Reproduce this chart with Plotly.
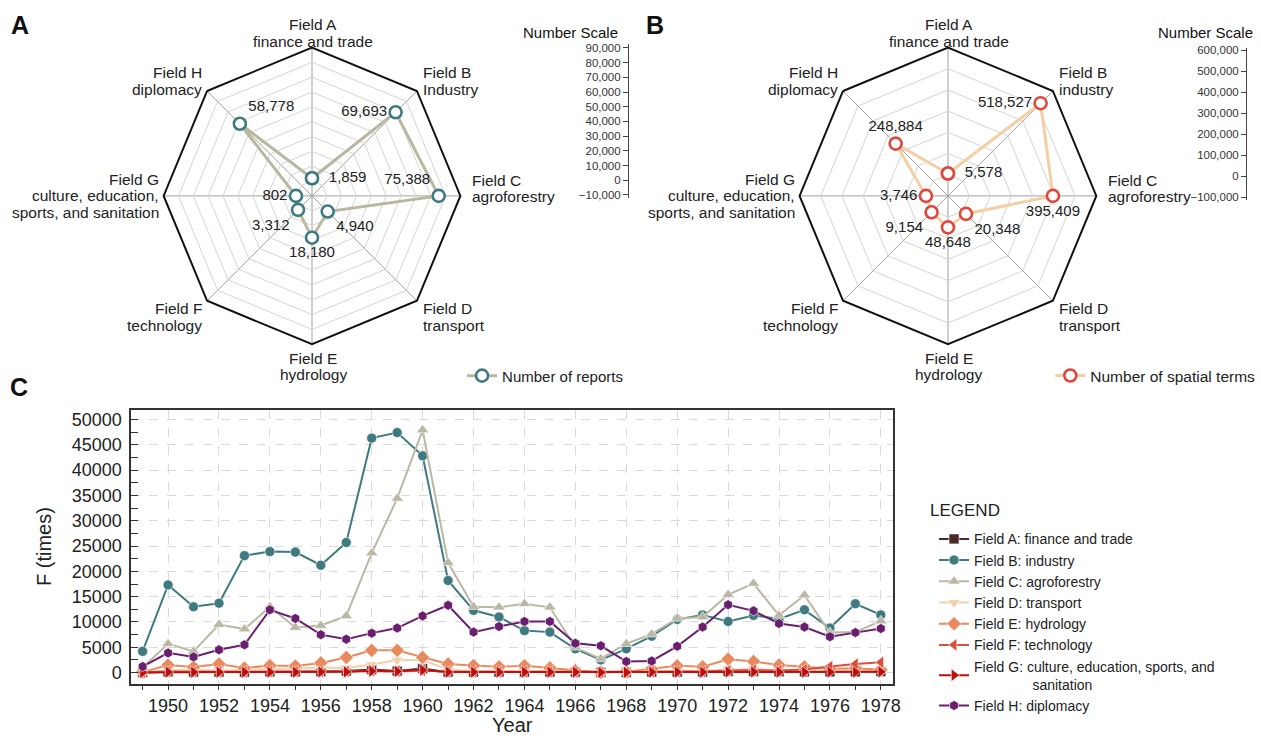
import plotly.graph_objects as go

FONT = "Liberation Sans, Arial, sans-serif"

# ---------------- data ----------------
fields = ["Field A", "Field B", "Field C", "Field D", "Field E", "Field F", "Field G", "Field H"]
reports = [1859, 69693, 75388, 4940, 18180, 3312, 802, 58778]
spatial_terms = [5578, 518527, 395409, 20348, 48648, 9154, 3746, 248884]

labels_a = [["Field A", "finance and trade"], ["Field B", "Industry"], ["Field C", "agroforestry"],
            ["Field D", "transport"], ["Field E", "hydrology"], ["Field F", "technology"],
            ["Field G", "culture, education,", "sports, and sanitation"], ["Field H", "diplomacy"]]
labels_b = [["Field A", "finance and trade"], ["Field B", "industry"], ["Field C", "agroforestry"],
            ["Field D", "transport"], ["Field E", "hydrology"], ["Field F", "technology"],
            ["Field G", "culture, education,", "sports, and sanitation"], ["Field H", "diplomacy"]]

years = list(range(1949, 1979))
field_a = [50, 150, 100, 100, 100, 150, 150, 200, 300, 600, 300, 800, 100, 100, 100, 100, 100, 100, 50, 50,
           100, 100, 100, 200, 200, 150, 150, 150, 150, 200]
field_b = [4200, 17300, 13000, 13700, 23100, 23900, 23800, 21200, 25700, 46300, 47400, 42800, 18200, 12300,
           11000, 8300, 8000, 4700, 2500, 4700, 7200, 10500, 11400, 10100, 11300, 10600, 12400, 8800, 13600, 11400]
field_c = [1000, 5700, 4200, 9500, 8600, 13000, 8900, 9300, 11200, 23600, 34400, 47900, 21700, 13000,
           12900, 13600, 12900, 5000, 2700, 5700, 7600, 10700, 11000, 15400, 17600, 11300, 15300, 7900, 8000, 10200]
field_d = [50, 500, 500, 400, 500, 700, 800, 1000, 900, 1600, 2500, 2500, 600, 300,
           300, 200, 400, 200, 100, 100, 200, 300, 300, 500, 700, 400, 500, 300, 400, 300]
field_e = [100, 1500, 1100, 1700, 900, 1400, 1300, 1900, 3000, 4400, 4400, 3000, 1700, 1400,
           1150, 1350, 950, 400, 50, 200, 750, 1350, 1150, 2650, 2200, 1500, 1150, 750, 850, 550]
field_f = [50, 200, 150, 150, 150, 200, 200, 200, 250, 350, 300, 400, 150, 150,
           150, 150, 150, 100, 50, 100, 150, 200, 200, 400, 500, 400, 600, 1200, 1700, 2050]
field_g = [50, 100, 100, 100, 100, 100, 100, 150, 150, 300, 250, 500, 100, 100,
           100, 100, 100, 100, 50, 50, 100, 100, 100, 150, 150, 100, 100, 100, 100, 150]
field_h = [1200, 3900, 3100, 4500, 5500, 12400, 10700, 7500, 6600, 7800, 8800, 11200, 13300, 8000,
           9100, 10100, 10100, 5800, 5300, 2200, 2300, 5200, 9000, 13400, 12200, 9700, 9000, 7100, 7900, 8700]

series_names = ["Field A: finance and trade", "Field B: industry", "Field C: agroforestry",
                "Field D: transport", "Field E: hydrology", "Field F: technology",
                "Field G: culture, education, sports, and<br>" + "\u00a0" * 15 + "sanitation",
                "Field H: diplomacy"]
series_values = [field_a, field_b, field_c, field_d, field_e, field_f, field_g, field_h]
series_colors = ["#4a2a2a", "#3f7a80", "#bab8a4", "#f0d0ae", "#e98a5e", "#d94f3d", "#c00d0d", "#6a1f6e"]
series_symbols = ["square", "circle", "triangle-up", "triangle-down", "diamond",
                  "triangle-left", "triangle-right", "hexagon"]

reports_text_pos = ["middle right", "middle left", "top left", "bottom right",
                    "bottom center", "bottom left", "middle left", "top right"]
terms_text_pos = ["middle right", "middle left", "bottom center", "bottom right",
                  "bottom center", "bottom left", "middle left", "top center"]

W, H = 1261, 736


def px(x):
    return x / W


def py(y):
    return 1 - y / H


def fmt_labels(values, positions):
    out = []
    for v, p in zip(values, positions):
        pad = "\u00a0\u00a0" if p == "middle right" else ""
        out.append(pad + f"{v:,}")
    return out


fig = go.Figure()

# ---------------- radar A & B ----------------
def closed(v):
    return list(v) + [v[0]]


fig.add_trace(go.Scatterpolar(
    r=closed(reports), theta=closed(fields), subplot="polar",
    mode="lines+markers+text", name="Number of reports", legend="legend2",
    text=fmt_labels(reports, reports_text_pos) + [""],
    textposition=reports_text_pos + ["middle right"],
    textfont=dict(size=15, color="#222", family=FONT),
    line=dict(color="#bab79f", width=3),
    marker=dict(symbol="circle", size=12, color="white", line=dict(color="#3f7a80", width=2.6)),
    cliponaxis=True,
))
fig.add_trace(go.Scatterpolar(
    r=closed(spatial_terms), theta=closed(fields), subplot="polar2",
    mode="lines+markers+text", name="Number of spatial terms", legend="legend3",
    text=fmt_labels(spatial_terms, terms_text_pos) + [""],
    textposition=terms_text_pos + ["middle right"],
    textfont=dict(size=15, color="#222", family=FONT),
    line=dict(color="#f3cfa5", width=3),
    marker=dict(symbol="circle", size=12, color="white", line=dict(color="#e0463a", width=2.6)),
    cliponaxis=True,
))

polar_common = dict(
    bgcolor="white",
    gridshape="linear",
    angularaxis=dict(rotation=90, direction="clockwise", showticklabels=False, ticks="",
                     gridcolor="#a0a0a0", gridwidth=1, linecolor="#111", linewidth=2,
                     categoryorder="array", categoryarray=fields),
)
RH = 150  # half size of polar domain (px)
CY = 195
fig.update_layout(
    polar=dict(domain=dict(x=[px(314 - RH), px(314 + RH)], y=[py(CY + RH), py(CY - RH)]),
               radialaxis=dict(range=[-10000, 90000], dtick=10000, tick0=0, showticklabels=False,
                               ticks="", showline=False, gridcolor="#d4d4d4", gridwidth=1),
               **polar_common),
    polar2=dict(domain=dict(x=[px(954 - RH), px(954 + RH)], y=[py(CY + RH), py(CY - RH)]),
                radialaxis=dict(range=[-100000, 600000], dtick=100000, tick0=0, showticklabels=False,
                                ticks="", showline=False, gridcolor="#d4d4d4", gridwidth=1),
                **polar_common),
)

# ---------------- number scales ----------------
fig.add_trace(go.Scatter(x=[], y=[], xaxis="x2", yaxis="y2", showlegend=False))
fig.add_trace(go.Scatter(x=[], y=[], xaxis="x3", yaxis="y3", showlegend=False))
scale_common = dict(showline=True, linecolor="#444", linewidth=1, ticks="outside", ticklen=5,
                    tickcolor="#444", tickformat=",", showgrid=False, zeroline=False,
                    tickfont=dict(size=11.5, color="#333", family=FONT))
fig.update_layout(
    xaxis2=dict(domain=[px(633), px(640)], visible=False, anchor="y2"),
    yaxis2=dict(domain=[py(197), py(41)], range=[-12000, 93000], dtick=10000, anchor="x2",
                side="left", **scale_common),
    xaxis3=dict(domain=[px(1255), px(1261)], visible=False, anchor="y3"),
    yaxis3=dict(domain=[py(199), py(45)], range=[-112000, 612000], dtick=100000, anchor="x3",
                side="left", **scale_common),
)

# ---------------- panel C ----------------
for name, vals, col, sym in zip(series_names, series_values, series_colors, series_symbols):
    size = 11 if sym not in ("circle", "hexagon", "square") else 10
    fig.add_trace(go.Scatter(
        x=years, y=vals, name=name, mode="lines+markers", legend="legend",
        line=dict(color=col, width=2),
        marker=dict(symbol=sym, size=size, color=col, line=dict(color="white", width=0.6)),
        cliponaxis=False,
    ))

fig.update_layout(
    xaxis=dict(domain=[px(132), px(899)], range=[1948.55, 1978.49], anchor="y",
               tick0=1950, dtick=2, ticks="outside", ticklen=5, tickcolor="#333",
               minor=dict(dtick=1, ticks="outside", ticklen=5, tickcolor="#333"),
               showgrid=True, gridcolor="#d9d9d9", griddash="dash", gridwidth=1,
               showline=True, linecolor="#333", linewidth=1.5, mirror=True, zeroline=False,
               tickfont=dict(size=18, color="#222", family=FONT),
               title=dict(text="Year", font=dict(size=20, color="#222", family=FONT), standoff=6)),
    yaxis=dict(domain=[py(688), py(411)], range=[-2150, 51950], anchor="x",
               dtick=5000, tick0=0, tickformat="d", ticks="inside", ticklen=7, tickcolor="#333",
               minor=dict(dtick=2500, ticks="inside", ticklen=7, tickcolor="#333"),
               showgrid=True, gridcolor="#d9d9d9", griddash="dash", gridwidth=1,
               showline=True, linecolor="#333", linewidth=1.5, mirror=True, zeroline=False,
               ticklabelstandoff=4,
               tickfont=dict(size=18, color="#222", family=FONT),
               title=dict(text="F (times)", font=dict(size=20, color="#222", family=FONT), standoff=15)),
)

# ---------------- legends ----------------
fig.update_layout(
    showlegend=True,
    legend=dict(x=px(940), y=py(526), xanchor="left", yanchor="top",
                font=dict(size=14, color="#222", family=FONT), bgcolor="rgba(0,0,0,0)",
                tracegroupgap=0),
    legend2=dict(x=px(465), y=py(377), xanchor="left", yanchor="middle",
                 font=dict(size=15, color="#222", family=FONT), bgcolor="rgba(0,0,0,0)"),
    legend3=dict(x=px(1057), y=py(377), xanchor="left", yanchor="middle",
                 font=dict(size=15.5, color="#222", family=FONT), bgcolor="rgba(0,0,0,0)"),
)

# ---------------- annotations ----------------
ann = []
lab_font = dict(size=15.5, color="#222", family=FONT)
# first-line positions relative to radar centre (dx, dy, xanchor)
label_pos = [(1, -173, "center"), (110, -125, "left"), (159, -16, "left"), (110, 114, "left"),
             (1, 164, "center"), (-109, 114, "right"), (-152, -17, "right"), (-109, -125, "right")]
LS = 17
for cx, labs in ((314, labels_a), (954, labels_b)):
    for (dx, dy, xa), lines in zip(label_pos, labs):
        for i, line in enumerate(lines):
            ann.append(dict(x=px(cx + dx), y=py(CY + dy + i * LS), xref="paper", yref="paper",
                            text=line, showarrow=False, xanchor=xa, yanchor="middle",
                            font=lab_font))

for xr, txt in ((624, "Number Scale"), (1263, "Number Scale")):
    ann.append(dict(x=px(xr), y=py(30), xref="paper", yref="paper", text=txt, showarrow=False,
                    xanchor="right", yanchor="middle", font=dict(size=15, color="#111", family=FONT)))

ann.append(dict(x=px(934), y=py(513), xref="paper", yref="paper", text="LEGEND", showarrow=False,
                xanchor="left", yanchor="middle", font=dict(size=17, color="#222", family=FONT)))

for x, y, t in ((20, 22, "A"), (659, 22, "B"), (19, 388, "C")):
    ann.append(dict(x=px(x), y=py(y), xref="paper", yref="paper", text=f"<b>{t}</b>",
                    showarrow=False, xanchor="center", yanchor="middle",
                    font=dict(size=25, color="#111", family=FONT)))

fig.update_layout(
    annotations=ann,
    width=W, height=H,
    margin=dict(l=0, r=0, t=0, b=0),
    paper_bgcolor="white", plot_bgcolor="white",
    font=dict(family=FONT, color="#222"),
)

POST = ("document.documentElement.style.overflow='hidden';"
        "document.body.style.overflow='hidden';"
        "document.body.style.margin='0';document.body.style.padding='0';")

fig.write_html("out.html", config=dict(displayModeBar=False), post_script=POST)
